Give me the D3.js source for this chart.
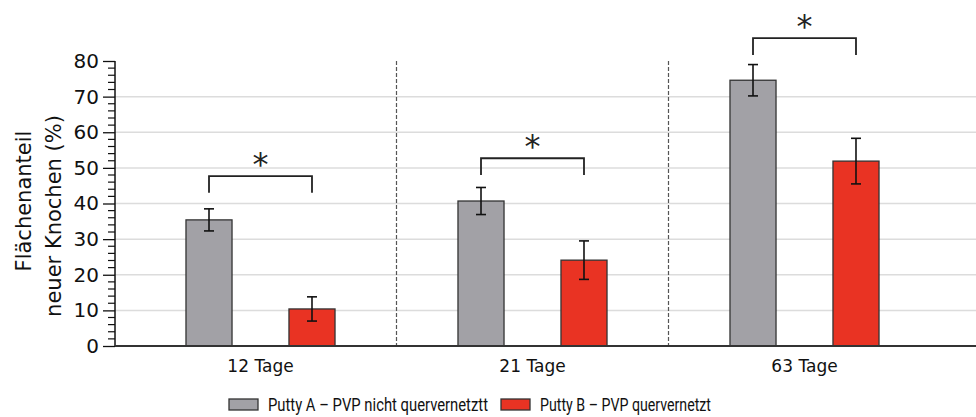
<!DOCTYPE html>
<html>
<head>
<meta charset="utf-8">
<script src="https://cdn.jsdelivr.net/npm/d3@7"></script>
<style>
  body { margin: 0; background: #fff; }
  svg { display: block; font-family: "DejaVu Sans", sans-serif; }
  .legend-text { font-family: Roboto, "Open Sans", sans-serif; }
</style>
</head>
<body>
<div id="chart"></div>
<script>
// Data
const categories = ['12 Tage', '21 Tage', '63 Tage'];
const seriesNames = ['Putty A – PVP nicht quervernetztt', 'Putty B – PVP quervernetzt'];
const puttyA = [35.4, 40.7, 74.6];
const puttyAErr = [3.1, 3.8, 4.4];
const puttyB = [10.4, 24.1, 51.9];
const puttyBErr = [3.4, 5.4, 6.4];
const bracketLevels = [47.7, 52.7, 86.4];
const yTicks = [0, 10, 20, 30, 40, 50, 60, 70, 80];

const colors = ['#a2a1a6', '#e93323'];

const width = 976, height = 417;
const margin = { top: 61, bottom: 71, left: 115 };
const y0 = height - margin.bottom;  // 346

const svg = d3.select('#chart').append('svg')
  .attr('width', width).attr('height', height);

const y = d3.scaleLinear().domain([0, 80]).range([y0, margin.top]);
const x0 = d3.scaleBand().domain(categories).range([124.5, 940.5]).padding(0);
const x1 = d3.scaleBand().domain([0, 1]).range([0, x0.bandwidth()])
  .paddingInner(0.553).paddingOuter(0.597);

// Grid lines
svg.append('g')
  .selectAll('line')
  .data(yTicks.filter(t => t > 0 && t < 80))
  .enter().append('line')
  .attr('x1', margin.left).attr('x2', width)
  .attr('y1', d => y(d)).attr('y2', d => y(d))
  .attr('stroke', '#dcdcdc').attr('stroke-width', 1.5);

// Dashed separators
svg.append('g')
  .selectAll('line')
  .data(categories.slice(1))
  .enter().append('line')
  .attr('x1', d => x0(d)).attr('x2', d => x0(d))
  .attr('y1', y(80)).attr('y2', y0)
  .attr('stroke', '#555').attr('stroke-width', 1.2)
  .attr('stroke-dasharray', '4,2');

// Bars
const groups = svg.append('g')
  .selectAll('g')
  .data(categories.map((c, i) => ({
    cat: c,
    vals: [{ s: 0, v: puttyA[i], e: puttyAErr[i] }, { s: 1, v: puttyB[i], e: puttyBErr[i] }],
    bracket: bracketLevels[i]
  })))
  .enter().append('g')
  .attr('transform', d => `translate(${x0(d.cat)},0)`);

groups.selectAll('rect')
  .data(d => d.vals)
  .enter().append('rect')
  .attr('x', d => x1(d.s))
  .attr('y', d => y(d.v))
  .attr('width', x1.bandwidth())
  .attr('height', d => y0 - y(d.v))
  .attr('fill', d => colors[d.s])
  .attr('stroke', '#333').attr('stroke-width', 1.3);

// Error bars
const cap = 5;
const errG = groups.selectAll('g.err')
  .data(d => d.vals)
  .enter().append('g').attr('class', 'err')
  .attr('stroke', '#111').attr('stroke-width', 1.6);
errG.append('line')
  .attr('x1', d => x1(d.s) + x1.bandwidth() / 2).attr('x2', d => x1(d.s) + x1.bandwidth() / 2)
  .attr('y1', d => y(d.v + d.e)).attr('y2', d => y(d.v - d.e));
errG.append('line')
  .attr('x1', d => x1(d.s) + x1.bandwidth() / 2 - cap).attr('x2', d => x1(d.s) + x1.bandwidth() / 2 + cap)
  .attr('y1', d => y(d.v + d.e)).attr('y2', d => y(d.v + d.e));
errG.append('line')
  .attr('x1', d => x1(d.s) + x1.bandwidth() / 2 - cap).attr('x2', d => x1(d.s) + x1.bandwidth() / 2 + cap)
  .attr('y1', d => y(d.v - d.e)).attr('y2', d => y(d.v - d.e));

// Significance brackets
const legLen = 4.7;
groups.append('path')
  .attr('d', d => {
    const xa = x1(0) + x1.bandwidth() / 2, xb = x1(1) + x1.bandwidth() / 2;
    return `M${xa},${y(d.bracket - legLen)}V${y(d.bracket)}H${xb}V${y(d.bracket - legLen)}`;
  })
  .attr('fill', 'none').attr('stroke', '#222').attr('stroke-width', 1.8);

groups.append('text')
  .attr('x', (x1(0) + x1(1) + x1.bandwidth()) / 2)
  .attr('y', d => y(d.bracket) - 1)
  .attr('text-anchor', 'middle')
  .style('font-size', '32px').style('fill', '#222')
  .text('*');

// Y axis
const yAxis = svg.append('g')
  .attr('transform', `translate(${margin.left},0)`)
  .call(d3.axisLeft(y).tickValues(yTicks).tickSize(12).tickPadding(4))
  .call(g => g.select('.domain').attr('d', `M0,${y(80)}V${y0}`).attr('stroke', '#111').attr('stroke-width', 1.5))
  .call(g => g.selectAll('.tick line').attr('stroke', '#111').attr('stroke-width', 1.3))
  .call(g => g.selectAll('.tick text').style('font-size', '20px').style('fill', '#111')
    .style('font-family', '"DejaVu Sans", sans-serif'));

// Minor ticks
yAxis.append('g')
  .selectAll('line')
  .data(d3.range(0, 81, 2).filter(v => v % 10 !== 0))
  .enter().append('line')
  .attr('x1', -7).attr('x2', 0)
  .attr('y1', d => y(d)).attr('y2', d => y(d))
  .attr('stroke', '#111').attr('stroke-width', 1.2);

// X axis line
svg.append('line')
  .attr('x1', margin.left).attr('x2', width)
  .attr('y1', y0).attr('y2', y0)
  .attr('stroke', '#333').attr('stroke-width', 1.8);

// X labels
svg.append('g')
  .selectAll('text')
  .data(categories)
  .enter().append('text')
  .attr('x', d => x0(d) + x0.bandwidth() / 2)
  .attr('y', 372)
  .attr('text-anchor', 'middle')
  .style('font-size', '17px').style('fill', '#111')
  .text(d => d);

// Y axis title
const yTitle = svg.append('text')
  .attr('transform', 'rotate(-90)')
  .attr('text-anchor', 'middle')
  .style('font-size', '21px').style('fill', '#111');
yTitle.append('tspan').attr('x', -201).attr('y', 31).text('Flächenanteil');
yTitle.append('tspan').attr('x', -216).attr('y', 61).text('neuer Knochen (%)');

// Legend
const legendItems = [{ x: 229, tx: 268, len: 220 }, { x: 501, tx: 540, len: 171 }];
const legend = svg.append('g').attr('class', 'legend')
  .selectAll('g')
  .data(seriesNames)
  .enter().append('g');
legend.append('rect')
  .attr('x', (d, i) => legendItems[i].x).attr('y', 399)
  .attr('width', 29).attr('height', 11)
  .attr('fill', (d, i) => colors[i])
  .attr('stroke', '#333').attr('stroke-width', 1.3);
legend.append('text')
  .attr('class', 'legend-text')
  .attr('x', (d, i) => legendItems[i].tx).attr('y', 411)
  .attr('textLength', (d, i) => legendItems[i].len)
  .attr('lengthAdjust', 'spacingAndGlyphs')
  .style('font-size', '18px').style('fill', '#111')
  .text(d => d);
</script>
</body>
</html>
